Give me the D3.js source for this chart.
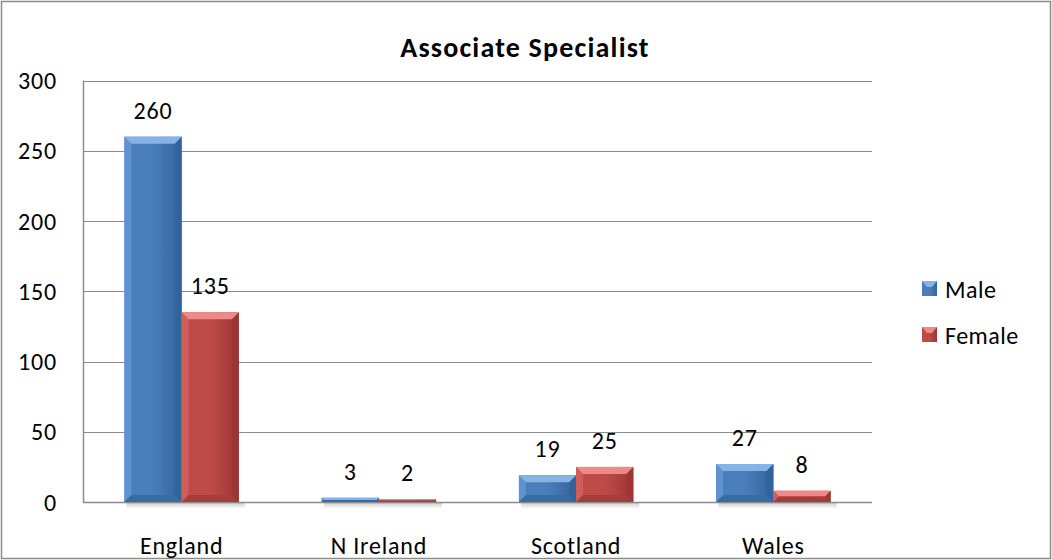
<!DOCTYPE html>
<html>
<head>
<meta charset="utf-8">
<script src="https://cdn.jsdelivr.net/npm/d3@7"></script>
<style>
  body { margin: 0; background: #fff; }
  text { font-family: Carlito, Lato, "Open Sans", sans-serif; fill: #000; }
</style>
</head>
<body>
<div id="chart"></div>
<script>
var width = 1052;
var height = 560;

// data
var categories = ["England", "N Ireland", "Scotland", "Wales"];
var seriesNames = ["Male", "Female"];
var maleValues = [260, 3, 19, 27];
var femaleValues = [135, 2, 25, 8];
var yTicks = [0, 50, 100, 150, 200, 250, 300];

var colors = {
  Male:   { main: "#4a7ebb", light: "#86b2e6", left: "#5f92d0", right: "#33639c", dark: "#3a6aa6" },
  Female: { main: "#be4b48", light: "#ec8a87", left: "#cf5e5b", right: "#9c3533", dark: "#a63d3b" }
};

var rows = categories.map(function(c, i) {
  return { cat: c, Male: maleValues[i], Female: femaleValues[i] };
});

var plot = { left: 83, right: 872, top: 80.5, bottom: 502 };

var svg = d3.select("#chart").append("svg")
    .attr("width", width)
    .attr("height", height);

// outer border
svg.append("rect")
    .attr("x", 1.5).attr("y", 1.5)
    .attr("width", width - 3).attr("height", height - 3)
    .attr("fill", "#fff")
    .attr("stroke", "#8c8c8c")
    .attr("stroke-width", 1.5);

var defs = svg.append("defs");
seriesNames.forEach(function(s) {
  var g = defs.append("linearGradient").attr("id", "grad" + s)
      .attr("x1", "0").attr("x2", "1").attr("y1", "0").attr("y2", "0");
  g.append("stop").attr("offset", "0%").attr("stop-color", colors[s].main);
  g.append("stop").attr("offset", "50%").attr("stop-color", colors[s].main);
  g.append("stop").attr("offset", "100%").attr("stop-color", colors[s].right);
});
var sh = defs.append("linearGradient").attr("id", "shadow")
    .attr("x1", "0").attr("x2", "0").attr("y1", "0").attr("y2", "1");
sh.append("stop").attr("offset", "0%").attr("stop-color", "#000").attr("stop-opacity", 0.18);
sh.append("stop").attr("offset", "100%").attr("stop-color", "#000").attr("stop-opacity", 0);

var x0 = d3.scaleBand()
    .domain(categories)
    .range([plot.left, plot.right])
    .paddingInner(0.42)
    .paddingOuter(0.21);

var x1 = d3.scaleBand()
    .domain(seriesNames)
    .range([0, x0.bandwidth()]);

var y = d3.scaleLinear()
    .domain([0, 300])
    .range([plot.bottom, plot.top]);

// gridlines
svg.append("g")
  .selectAll("line")
  .data(yTicks)
  .enter().append("line")
    .attr("x1", plot.left)
    .attr("x2", plot.right)
    .attr("y1", function(d) { return Math.round(y(d)) + 0.5; })
    .attr("y2", function(d) { return Math.round(y(d)) + 0.5; })
    .attr("stroke", "#8c8c8c")
    .attr("stroke-width", function(d) { return d === 0 ? 1.5 : 1; });

// y axis line
svg.append("line")
    .attr("x1", plot.left + 0.5).attr("x2", plot.left + 0.5)
    .attr("y1", plot.top).attr("y2", plot.bottom + 1)
    .attr("stroke", "#8c8c8c")
    .attr("stroke-width", 1.5);

// y labels
svg.append("g")
  .selectAll("text")
  .data(yTicks)
  .enter().append("text")
    .attr("x", 57)
    .attr("y", function(d) { return y(d); })
    .attr("dy", "0.36em")
    .attr("text-anchor", "end")
    .style("font-size", "24px")
    .style("letter-spacing", "0.8px")
    .text(function(d) { return d; });

// x labels
svg.append("g")
  .selectAll("text")
  .data(categories)
  .enter().append("text")
    .attr("x", function(d) { return x0(d) + x0.bandwidth() / 2; })
    .attr("y", 545)
    .attr("dy", "0.36em")
    .attr("text-anchor", "middle")
    .style("font-size", "24px")
    .style("letter-spacing", "0.8px")
    .text(function(d) { return d; });

// bars with bevel
var groups = svg.append("g")
  .selectAll("g")
  .data(rows)
  .enter().append("g")
    .attr("transform", function(d) { return "translate(" + x0(d.cat) + ",0)"; });

var bars = groups.selectAll("g.bar")
  .data(function(d) { return seriesNames.map(function(s) { return { s: s, v: d[s] }; }); })
  .enter().append("g").attr("class", "bar");

// soft shadow under the bars
groups.append("rect")
    .attr("x", 2)
    .attr("y", plot.bottom + 1)
    .attr("width", x0.bandwidth() + 4)
    .attr("height", 6)
    .attr("fill", "url(#shadow)");

bars.append("rect")
    .attr("x", function(d) { return x1(d.s); })
    .attr("y", function(d) { return y(d.v); })
    .attr("width", x1.bandwidth())
    .attr("height", function(d) { return plot.bottom - y(d.v); })
    .attr("fill", function(d) { return "url(#grad" + d.s + ")"; });

function bevel(d, side) {
  var xa = x1(d.s), w = x1.bandwidth(), yt = y(d.v), yb = plot.bottom, h = yb - yt;
  var b = Math.min(7, h / 2);
  var xr = xa + w;
  if (side === "top") return "M" + xa + "," + yt + "L" + xr + "," + yt + "L" + (xr - b) + "," + (yt + b) + "L" + (xa + b) + "," + (yt + b) + "Z";
  if (side === "bottom") return "M" + xa + "," + yb + "L" + xr + "," + yb + "L" + (xr - b) + "," + (yb - b) + "L" + (xa + b) + "," + (yb - b) + "Z";
  if (side === "left") return "M" + xa + "," + yt + "L" + (xa + b) + "," + (yt + b) + "L" + (xa + b) + "," + (yb - b) + "L" + xa + "," + yb + "Z";
  return "M" + xr + "," + yt + "L" + (xr - b) + "," + (yt + b) + "L" + (xr - b) + "," + (yb - b) + "L" + xr + "," + yb + "Z";
}

var bevelColor = { top: "light", left: "left", right: "right", bottom: "dark" };
["left", "right", "top", "bottom"].forEach(function(side) {
  bars.append("path")
      .attr("d", function(d) { return bevel(d, side); })
      .attr("fill", function(d) { return colors[d.s][bevelColor[side]]; });
});

// value labels
bars.append("text")
    .attr("x", function(d) { return x1(d.s) + x1.bandwidth() / 2; })
    .attr("y", function(d) { return y(d.v) - 18; })
    .attr("text-anchor", "middle")
    .style("font-size", "24px")
    .style("letter-spacing", "0.8px")
    .text(function(d) { return d.v; });

// title
svg.append("text")
    .attr("x", 525)
    .attr("y", 47)
    .attr("dy", "0.36em")
    .attr("text-anchor", "middle")
    .style("font-size", "28px")
    .style("font-weight", "bold")
    .style("letter-spacing", "1.2px")
    .text("Associate Specialist");

// legend
var legend = svg.append("g")
  .selectAll("g")
  .data(seriesNames)
  .enter().append("g")
    .attr("transform", function(d, i) { return "translate(922," + (289 + i * 46) + ")"; });

legend.append("rect")
    .attr("x", 0).attr("y", -8)
    .attr("width", 15).attr("height", 15)
    .attr("fill", function(d) { return "url(#grad" + d + ")"; });

legend.append("path")
    .attr("d", "M0,-8L15,-8L10,-2L5,-2Z")
    .attr("fill", function(d) { return colors[d].light; });

legend.append("text")
    .attr("x", 23)
    .attr("y", 0)
    .attr("dy", "0.36em")
    .style("font-size", "24px")
    .style("letter-spacing", "0.5px")
    .text(function(d) { return d; });
</script>
</body>
</html>
